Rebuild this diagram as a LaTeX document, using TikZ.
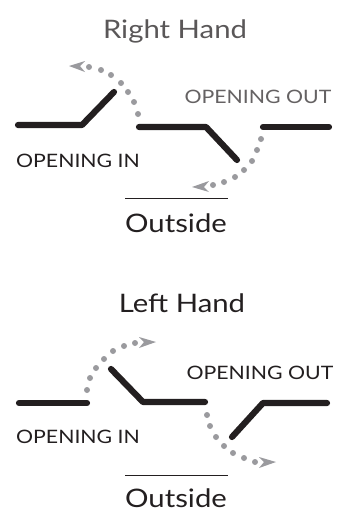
\documentclass[tikz,border=0pt]{standalone}
\usepackage{fontspec}
\setmainfont[FakeStretch=1.15]{Lato}
\definecolor{ink}{HTML}{231F20}
\definecolor{dotgray}{HTML}{9A9A9E}
\tikzset{
  leaf/.style={line width=6.2pt,color=ink,line cap=round,line join=round},
  rule/.style={line width=0.6pt,color=ink},
  title/.style={font=\fontsize{25.5}{28}\selectfont,text=ink,inner sep=0pt,anchor=base},
  small/.style={font=\fontsize{18.5}{20}\selectfont,text=ink,inner sep=0pt,anchor=base},
  spot/.style={fill=dotgray,draw=none},
  head/.style={fill=dotgray,draw=none}
}
\newcommand{\dotrun}[1]{\foreach \p in {#1}{\fill[spot] \p circle (3pt);}}
\begin{document}
\begin{tikzpicture}[x=1pt,y=-1pt]
\useasboundingbox (0,0) rectangle (351,512);
% Right hand
\node[title,text=ink!75] (rh) at (175,38) {Right Hand};
\node[small,text=ink!70] (rhout) at (258,103) {OPENING OUT};
\node[small] (rhin) at (78,167) {OPENING IN};
\node[title] (rhoutside) at (176,232) {Outside};
\draw[rule] (125,198) -- (228,198);
\draw[leaf] (18,125) -- (82,125) -- (114,92);
\draw[leaf] (139,127) -- (206,127) -- (237,160);
\draw[leaf] (263,127) -- (329,127);
\dotrun{(138,114),(134,102),(128,92),(121,83),(111,75),(101,70),(89,67)}
\fill[head] (69,66) -- (85,61) -- (80,66) -- (85,72) -- cycle;
\dotrun{(261,139),(257,150),(252,161),(244,170),(235,177),(224,182),(213,185)}
\fill[head] (192,187) -- (209,181) -- (204,187) -- (209,192) -- cycle;
% Left hand
\node[title] (lh) at (182,312) {Left Hand};
\node[small] (lhout) at (260,379) {OPENING OUT};
\node[small] (lhin) at (78,443) {OPENING IN};
\node[title] (lhoutside) at (176,507) {Outside};
\draw[rule] (125,475) -- (228,475);
\draw[leaf] (19,403) -- (87,403);
\draw[leaf] (111,369) -- (143,402) -- (205,402);
\draw[leaf] (232,437) -- (263,403) -- (327,403);
\dotrun{(87,390),(90,378),(96,368),(104,359),(113,351),(124,346),(135,343)}
\fill[head] (156,342) -- (139,337) -- (144,342) -- (139,348) -- cycle;
\dotrun{(207,415),(210,426),(216,437),(224,446),(233,453),(244,458),(255,462)}
\fill[head] (276,462) -- (259,457) -- (264,462) -- (259,468) -- cycle;
\end{tikzpicture}
\end{document}
